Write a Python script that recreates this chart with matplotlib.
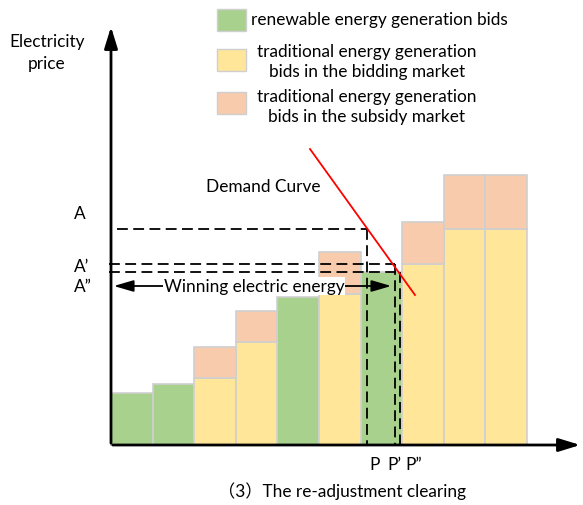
import matplotlib.pyplot as plt
from matplotlib.patches import Rectangle

# bid stack (heights measured up from the origin, bar width = one step)
bar_width = 41.6
renewable = [52, 61, 0, 0, 148, 0, 173, 0, 0, 0]
bidding = [0, 0, 67, 103, 0, 151, 0, 181, 216, 216]
subsidy = [0, 0, 31, 31, 0, 42, 0, 42, 54, 54]

# clearing prices and quantities
price_labels = ["A", "A\u2019", "A\u201d"]
price_levels = [216, 181, 173]
quantity_levels = [256, 284, 289]
qty_labels = ["P", "P\u2019", "P\u201d"]

demand_x = [199, 304]
demand_y = [296, 150]

GREEN = "#A9D18E"
YELLOW = "#FFE699"
ORANGE = "#F8CBAD"
EDGE = "#CFCFCF"
FS = 12.4

plt.rcParams["font.family"] = ["Lato", "Noto Sans CJK SC", "DejaVu Sans"]

fig = plt.figure(figsize=(5.83, 5.06), dpi=100)
ax = fig.add_axes([0, 0, 1, 1])
ax.set_xlim(-111, 472)
ax.set_ylim(-60, 446)
ax.axis("off")

xs = [i * bar_width for i in range(len(renewable))]
ax.bar(xs, renewable, width=bar_width, align="edge", color=GREEN,
       edgecolor=EDGE, linewidth=1.2, zorder=2)
ax.bar(xs, bidding, width=bar_width, align="edge", color=YELLOW,
       edgecolor=EDGE, linewidth=1.2, zorder=2)
ax.bar(xs, subsidy, bottom=bidding, width=bar_width, align="edge",
       color=ORANGE, edgecolor=EDGE, linewidth=1.2, zorder=2)

# axes with arrows
ax.annotate("", xy=(0, 421), xytext=(0, -1),
            arrowprops=dict(arrowstyle="-|>,head_width=0.4,head_length=1.3",
                            color="black", lw=2), zorder=5)
ax.annotate("", xy=(472, 0), xytext=(-1, 0),
            arrowprops=dict(arrowstyle="-|>,head_width=0.4,head_length=1.3",
                            color="black", lw=2), zorder=5)

# dashed clearing lines
dash = dict(color="black", lw=1.3, linestyle=(0, (6, 3)), zorder=4)
starts = [6, -2, -2]
for p, q, s in zip(price_levels, quantity_levels, starts):
    ax.plot([s, q], [p, p], **dash)
    ax.plot([q, q], [p, 0], **dash)

for lab, p, y in zip(price_labels, price_levels, [232, 179, 159]):
    ax.text(-37, y, lab, fontsize=FS, ha="left", va="center")

ax.text(264, -19, qty_labels[0], fontsize=FS, ha="center", va="center")
ax.text(276, -19, qty_labels[1], fontsize=FS, ha="left", va="center")
ax.text(294, -19, qty_labels[2], fontsize=FS, ha="left", va="center")

# demand curve
ax.plot(demand_x, demand_y, color="red", lw=1.3, zorder=4)
ax.text(152, 259, "Demand Curve", fontsize=FS, ha="center", va="center")

# winning energy arrow
ax.annotate("", xy=(0, 159), xytext=(283, 159),
            arrowprops=dict(arrowstyle="<|-|>,head_width=0.35,head_length=1.2",
                            color="black", lw=1.3), zorder=5)
ax.text(143, 159, "Winning electric energy", fontsize=FS, ha="center",
        va="center", zorder=6,
        bbox=dict(facecolor="white", edgecolor="none", pad=0.5))

ax.text(-64, 393, "Electricity\nprice", fontsize=FS, ha="center",
        va="center", linespacing=1.4)

# legend
leg_items = [
    (GREEN, 425, 426, "renewable energy generation bids", "left", 140),
    (YELLOW, 385, 384, "traditional energy generation\nbids in the bidding market", "center", 256),
    (ORANGE, 342, 339, "traditional energy generation\nbids in the subsidy market", "center", 256),
]
for col, ys, yt, lab, ha, tx in leg_items:
    ax.add_patch(Rectangle((106, ys - 11), 29, 22, facecolor=col,
                           edgecolor=EDGE, lw=1))
    ax.text(tx, yt, lab, fontsize=FS, ha=ha, va="center", linespacing=1.25)

ax.text(231, -45, "\uff083\uff09The re-adjustment clearing", fontsize=FS,
        ha="center", va="center")

fig.savefig("out.png", dpi=100)
